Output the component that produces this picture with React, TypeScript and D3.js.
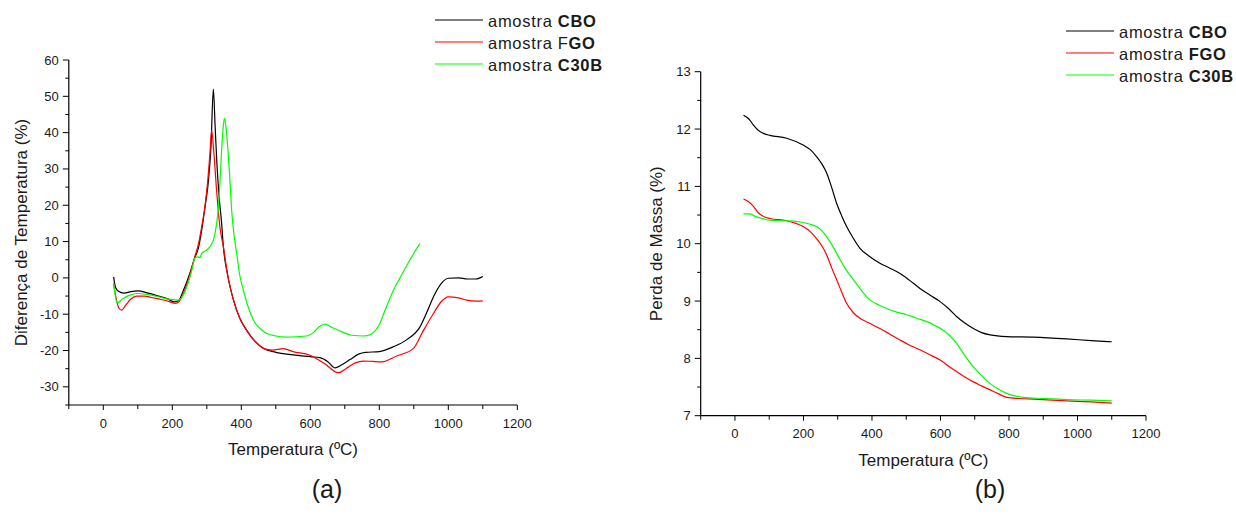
import React from "react";
import * as d3 from "d3";

type Pt = [number, number];

// ---- Chart (a): DTA ----
const dtaCBO: Pt[] = [[30,0.3],[35,-2.5],[43,-3.6],[60,-4.2],[80,-3.8],[100,-3.6],[130,-4.2],[160,-5.0],[185,-5.7],[205,-6.6],[218,-6.3],[232,-3.5],[250,1],[265,5.5],[275,8],[285,13],[295,19.6],[305,27],[312,36],[319,52],[324,42],[329,32],[336,22],[343,15],[348,8.6],[360,1],[377,-6],[395,-11],[416,-14.5],[440,-17.5],[464,-19.4],[500,-20.5],[550,-21.2],[600,-21.7],[630,-22],[650,-23],[672,-24.8],[690,-24],[715,-22.5],[740,-21],[760,-20.5],[800,-20.3],[840,-19],[880,-17],[918,-13.5],[940,-9],[957,-5.2],[980,-1.5],[1000,-0.1],[1030,0],[1055,-0.3],[1080,-0.3],[1100,0.4]];
const dtaFGO: Pt[] = [[30,-1.5],[38,-6],[45,-8.3],[53,-8.9],[65,-7.5],[80,-5.8],[97,-5],[120,-5],[135,-5.3],[160,-5.8],[184,-6.3],[208,-7],[220,-6.5],[232,-4.3],[250,0.5],[265,5.8],[275,9],[285,14],[295,20],[303,27],[309,34],[314,40.7],[320,35],[329,23.3],[338,14],[348,8.6],[360,1],[377,-6],[395,-11],[416,-14.5],[440,-17.5],[464,-19.4],[490,-19.9],[522,-19.5],[550,-20.3],[599,-21.3],[640,-23.5],[681,-26.1],[705,-24.9],[730,-23.4],[754,-22.9],[780,-23],[807,-23.1],[850,-21.5],[899,-19.4],[925,-15],[957,-9.8],[980,-6.5],[1000,-5.2],[1030,-5.5],[1053,-6.1],[1080,-6.4],[1100,-6.3]];
const dtaC30B: Pt[] = [[30,-1.5],[35,-5],[41,-6.9],[55,-5.8],[75,-4.8],[97,-4.3],[130,-4.6],[160,-5.2],[184,-5.8],[217,-6.1],[230,-5],[242,-2.5],[255,1.5],[266,5.5],[275,5.8],[280,5.6],[285,6.7],[300,7.7],[312,9],[319,10.4],[327,14],[333,18.7],[338,26],[343,35.2],[348,42],[351,43.9],[355,42],[362,34.3],[367,27],[372,18.7],[380,11],[387,6.5],[395,1],[406,-3.4],[420,-8],[435,-11.6],[455,-14],[474,-15.3],[500,-16],[530,-16.3],[560,-16.2],[590,-16],[610,-15],[625,-13.5],[643,-12.7],[660,-13.5],[690,-14.8],[720,-15.8],[755,-16],[775,-15.6],[790,-14.3],[802,-12.5],[815,-9.3],[830,-5.8],[841,-3.4],[860,0],[880,3.5],[900,6.8],[918,9.5]];

// ---- Chart (b): TGA ----
const tgaCBO: Pt[] = [[25,12.24],[40,12.18],[54,12.07],[68,11.98],[85,11.92],[102,11.89],[151,11.84],[199,11.72],[220,11.64],[238,11.52],[255,11.38],[268,11.23],[283,10.97],[297,10.7],[312,10.48],[326,10.3],[345,10.1],[365,9.92],[390,9.79],[423,9.66],[450,9.58],[482,9.48],[510,9.36],[540,9.22],[570,9.1],[599,8.99],[625,8.86],[647,8.73],[670,8.62],[696,8.52],[720,8.45],[745,8.41],[793,8.38],[871,8.37],[968,8.34],[1040,8.31],[1100,8.29]];
const tgaFGO: Pt[] = [[25,10.78],[40,10.73],[54,10.65],[68,10.54],[85,10.47],[102,10.44],[151,10.4],[180,10.35],[199,10.3],[220,10.21],[238,10.09],[255,9.95],[268,9.8],[283,9.57],[297,9.37],[312,9.15],[326,8.96],[345,8.8],[365,8.7],[390,8.62],[423,8.52],[450,8.43],[482,8.32],[510,8.23],[540,8.15],[570,8.06],[599,7.97],[625,7.86],[647,7.77],[670,7.68],[696,7.59],[720,7.52],[745,7.45],[770,7.38],[793,7.32],[830,7.3],[871,7.29],[968,7.26],[1040,7.24],[1100,7.22]];
const tgaC30B: Pt[] = [[25,10.52],[44,10.52],[58,10.48],[68,10.46],[85,10.43],[102,10.41],[151,10.4],[199,10.37],[220,10.34],[238,10.3],[255,10.22],[268,10.12],[287,9.94],[307,9.72],[326,9.53],[346,9.37],[370,9.18],[394,9.02],[420,8.93],[443,8.87],[470,8.81],[501,8.76],[530,8.7],[560,8.64],[585,8.57],[608,8.49],[628,8.39],[647,8.26],[670,8.06],[696,7.85],[720,7.7],[745,7.56],[770,7.46],[793,7.39],[820,7.34],[842,7.32],[900,7.3],[968,7.28],[1040,7.27],[1100,7.26]];

const xTicks = [0, 200, 400, 600, 800, 1000, 1200];
const xMinorTicks = [-100, 100, 300, 500, 700, 900, 1100];
const dtaYTicks = [-30, -20, -10, 0, 10, 20, 30, 40, 50, 60];
const dtaYMinor = [-35, -25, -15, -5, 5, 15, 25, 35, 45, 55];
const tgaYTicks = [7, 8, 9, 10, 11, 12, 13];
const tgaYMinor = [7.5, 8.5, 9.5, 10.5, 11.5, 12.5];

const colors = ["#000000", "#ff0000", "#00ff00"];
const FONT = "'Liberation Sans', Arial, Helvetica, sans-serif";

interface PanelProps {
  xRange: [number, number];
  yDomain: [number, number];
  yRange: [number, number];
  yTicks: number[];
  yMinor: number[];
  series: Pt[][];
  yTitle: string;
  yTitleX: number;
  xTitleY: number;
  xLabelY: number;
  legendX: number;
  legendY: number;
  legendLabels: React.ReactNode[];
  caption: string;
  captionX: number;
}

function Panel(p: PanelProps) {
  const x = d3.scaleLinear().domain([-100, 1200]).range(p.xRange);
  const y = d3.scaleLinear().domain(p.yDomain).range(p.yRange);
  const line = d3
    .line<Pt>()
    .x((d) => x(d[0]))
    .y((d) => y(d[1]))
    .curve(d3.curveMonotoneX);
  const x0 = p.xRange[0];
  const yb = p.yRange[0];
  const midY = (p.yRange[0] + p.yRange[1]) / 2;
  const midX = (p.xRange[0] + p.xRange[1]) / 2;
  return (
    <g fontFamily={FONT} fill="#1a1a1a">
      {p.series.map((s, i) => (
        <path key={i} d={line(s) || ""} fill="none" stroke={colors[i]} strokeWidth={1.2} />
      ))}
      <line x1={x0} x2={p.xRange[1]} y1={yb} y2={yb} stroke="#000" strokeWidth={1.2} />
      <line x1={x0} x2={x0} y1={yb} y2={p.yRange[1]} stroke="#000" strokeWidth={1.2} />
      {xTicks.map((t) => (
        <g key={"xt" + t}>
          <line x1={x(t)} x2={x(t)} y1={yb} y2={yb + 5} stroke="#000" />
          <text x={x(t)} y={p.xLabelY} textAnchor="middle" fontSize={13}>{t}</text>
        </g>
      ))}
      {xMinorTicks.map((t) => (
        <line key={"xm" + t} x1={x(t)} x2={x(t)} y1={yb} y2={yb + 4} stroke="#000" />
      ))}
      {p.yTicks.map((t) => (
        <g key={"yt" + t}>
          <line x1={x0 - 6} x2={x0} y1={y(t)} y2={y(t)} stroke="#000" />
          <text x={x0 - 10} y={y(t) + 4.5} textAnchor="end" fontSize={13}>{t}</text>
        </g>
      ))}
      {p.yMinor.map((t) => (
        <line key={"ym" + t} x1={x0 - 3.5} x2={x0} y1={y(t)} y2={y(t)} stroke="#000" />
      ))}
      <text x={midX} y={p.xTitleY} textAnchor="middle" fontSize={17}>Temperatura (ºC)</text>
      <text
        transform={`translate(${p.yTitleX},${midY}) rotate(-90)`}
        textAnchor="middle"
        fontSize={17}
      >
        {p.yTitle}
      </text>
      {p.legendLabels.map((lab, i) => (
        <g key={"lg" + i}>
          <line
            x1={p.legendX}
            x2={p.legendX + 48}
            y1={p.legendY + i * 22}
            y2={p.legendY + i * 22}
            stroke={colors[i]}
            strokeWidth={1.2}
          />
          <text x={p.legendX + 53} y={p.legendY + i * 22 + 7} fontSize={16.5} letterSpacing={0.7}>
            {lab}
          </text>
        </g>
      ))}
      <text x={p.captionX} y={498} textAnchor="middle" fontSize={25}>{p.caption}</text>
    </g>
  );
}

export default function App() {
  return (
    <svg
      width={1236}
      height={528}
      style={{ position: "absolute", left: 0, top: 0, background: "#fff" }}
    >
      <rect width={1236} height={528} fill="#fff" />
      <Panel
        xRange={[68.8, 517.3]}
        yDomain={[-35, 60]}
        yRange={[405, 60]}
        yTicks={dtaYTicks}
        yMinor={dtaYMinor}
        series={[dtaCBO, dtaFGO, dtaC30B]}
        yTitle="Diferença de Temperatura (%)"
        yTitleX={27}
        xTitleY={455}
        xLabelY={428}
        legendX={435}
        legendY={20}
        legendLabels={[
          <>amostra <tspan fontWeight="bold">CBO</tspan></>,
          <>amostra F<tspan fontWeight="bold">GO</tspan></>,
          <>amostra <tspan fontWeight="bold">C30B</tspan></>,
        ]}
        caption="(a)"
        captionX={327}
      />
      <Panel
        xRange={[700.7, 1146]}
        yDomain={[7, 13]}
        yRange={[415.7, 71.7]}
        yTicks={tgaYTicks}
        yMinor={tgaYMinor}
        series={[tgaCBO, tgaFGO, tgaC30B]}
        yTitle="Perda de Massa (%)"
        yTitleX={662}
        xTitleY={466}
        xLabelY={438}
        legendX={1066}
        legendY={31}
        legendLabels={[
          <>amostra <tspan fontWeight="bold">CBO</tspan></>,
          <>amostra <tspan fontWeight="bold">FGO</tspan></>,
          <>amostra <tspan fontWeight="bold">C30B</tspan></>,
        ]}
        caption="(b)"
        captionX={990}
      />
    </svg>
  );
}
